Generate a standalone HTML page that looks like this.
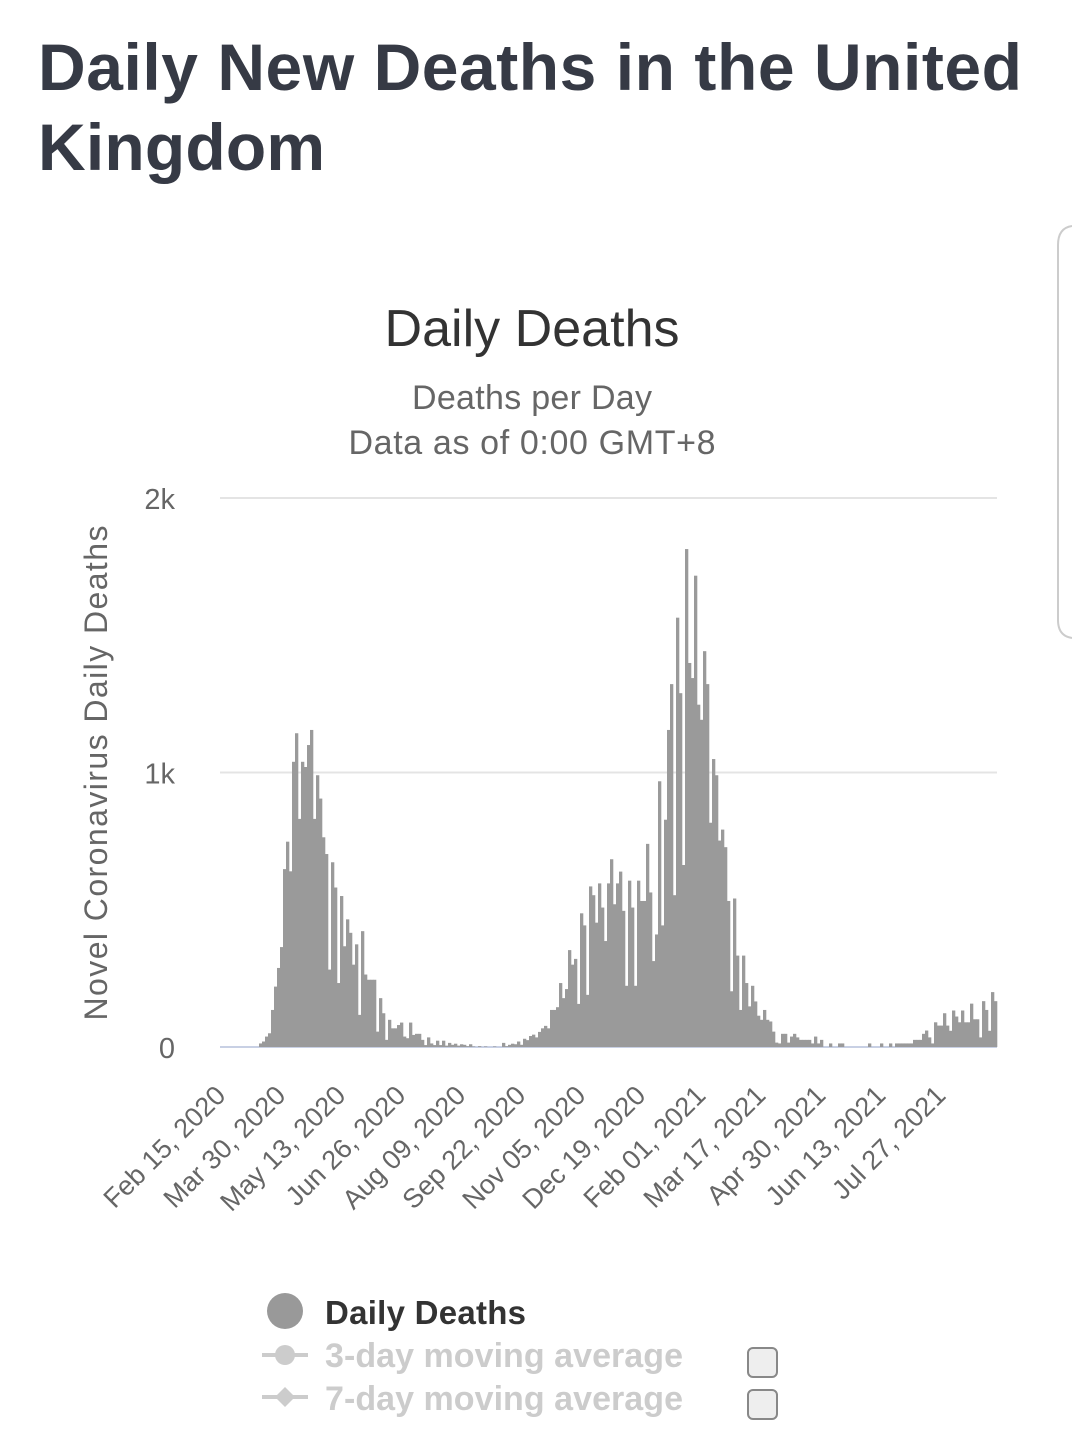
<!DOCTYPE html>
<html><head><meta charset="utf-8"><style>
html,body{margin:0;padding:0;background:#fff;}
svg{display:block;font-family:"Liberation Sans",sans-serif;}
</style></head><body>
<svg id="chart" width="1072" height="1429" viewBox="0 0 1072 1429">
<text x="38" y="90" font-size="66" font-weight="bold" fill="#363a45" textLength="984">Daily New Deaths in the United</text>
<text x="38" y="170" font-size="66" font-weight="bold" fill="#363a45" textLength="287">Kingdom</text>
<path d="M1072,226 Q1058,228 1058,245 L1058,620 Q1058,636 1072,638" fill="none" stroke="#ccc" stroke-width="2"/>
<text x="532" y="346" font-size="52" fill="#333" text-anchor="middle" textLength="295">Daily Deaths</text>
<text x="532" y="409" font-size="34" fill="#666" text-anchor="middle" textLength="240">Deaths per Day</text>
<text x="532" y="454" font-size="34" fill="#666" text-anchor="middle" textLength="367">Data as of 0:00 GMT+8</text>
<text transform="translate(107,773) rotate(-90)" font-size="32" fill="#666" text-anchor="middle" textLength="495">Novel Coronavirus Daily Deaths</text>
<g id="grid"></g><g id="bars"></g><g id="yt"></g><g id="xt"></g>
<circle cx="285" cy="1311" r="18" fill="#999"/>
<text x="325" y="1324" font-size="33" font-weight="bold" fill="#333" textLength="201">Daily Deaths</text>
<line x1="262" y1="1355" x2="308" y2="1355" stroke="#ccc" stroke-width="4"/>
<circle cx="285" cy="1355" r="10" fill="#ccc"/>
<text x="325" y="1367" font-size="34" font-weight="bold" fill="#ccc" textLength="358">3-day moving average</text>
<line x1="262" y1="1397" x2="308" y2="1397" stroke="#ccc" stroke-width="4"/>
<path d="M285,1387 L295,1397 L285,1407 L275,1397 Z" fill="#ccc"/>
<text x="325" y="1410" font-size="34" font-weight="bold" fill="#ccc" textLength="358">7-day moving average</text>
<rect x="748" y="1348" width="29" height="29" rx="5" fill="#eee" stroke="#888" stroke-width="2"/>
<rect x="748" y="1390" width="29" height="29" rx="5" fill="#eee" stroke="#888" stroke-width="2"/>
</svg>
<script>
const deaths = [0,0,0,0,0,0,0,0,0,0,0,0,0,
13,20,38,50,135,220,288,364,648,748,640,1039,1143,831,1039,1020,1100,1155,831,990,905,764,703,282,673,581,233,550,367,465,416,300,374,117,422,264,245,245,245,56,178,123,26,99,68,68,80,89,38,32,89,44,48,48,26,7,35,13,7,23,7,23,
5,15,8,12,5,10,8,3,10,2,0,3,0,2,0,0,2,0,0,15,3,8,12,10,20,8,30,25,40,45,35,55,
68,77,68,135,135,145,233,178,211,353,
300,321,157,487,443,190,585,553,453,596,
508,386,596,684,520,596,639,496,223,606,
508,223,606,532,532,740,563,313,410,968,
443,828,1155,1322,553,1564,1289,663,1814,1399,
1344,1717,1247,1192,1442,1322,817,1049,990,752,
792,728,532,203,541,333,135,333,233,148,
223,166,114,99,135,99,93,56,16,13,
48,48,16,38,48,35,26,26,26,26,13,38,13,
26,0,0,13,0,0,13,13,0,0,0,0,0,0,0,0,13,0,0,0,13,0,0,13,0,
13,13,13,13,13,13,26,26,26,
48,60,35,13,90,78,78,123,78,59,133,111,90,133,90,90,158,101,101,35,167,135,59,200,167];
const yTickValues = [0,1000,2000];
const yTickLabels = ["0","1k","2k"];
const xTickLabels = ["Feb 15, 2020","Mar 30, 2020","May 13, 2020","Jun 26, 2020","Aug 09, 2020","Sep 22, 2020","Nov 05, 2020","Dec 19, 2020","Feb 01, 2021","Mar 17, 2021","Apr 30, 2021","Jun 13, 2021","Jul 27, 2021"];
const xTickBarIndex = [1.7,21.7,41.7,61.7,81.7,101.7,121.7,141.7,161.7,181.7,201.7,221.7,241.7];

const NS="http://www.w3.org/2000/svg";
const X0=220, X1=997, Y0=1047, Y2k=498;
const bw=(X1-X0)/deaths.length;
const xs=i=>X0+i*bw;
const ys=v=>Y0-(v/2000)*(Y0-Y2k);
function mk(tag,attrs,parent){const e=document.createElementNS(NS,tag);for(const k in attrs)e.setAttribute(k,attrs[k]);document.getElementById(parent).appendChild(e);return e;}

yTickValues.forEach((v,i)=>{
  const g=mk('line',{x1:X0,x2:X1,y1:ys(v),y2:ys(v),stroke:v===0?'#c8d0e4':'#e4e4e4','stroke-width':2},'grid');
  
  
  const t=mk('text',{x:175,y:ys(v)+11,'font-size':29,fill:'#666','text-anchor':'end'},'yt');
  t.textContent=yTickLabels[i];
  
  
});
deaths.forEach((v,i)=>{
  if(v<=0)return;
  const r=mk('rect',{x:xs(i),y:ys(v),width:bw+0.3,height:Y0-ys(v),fill:'#9a9a9a'},'bars');
  
  
});
xTickLabels.forEach((lab,k)=>{
  const x=xs(xTickBarIndex[k]);
  const t=mk('text',{transform:`translate(${x+2},${1097}) rotate(-45)`,'font-size':27,fill:'#666','text-anchor':'end'},'xt');
  t.textContent=lab;
  
  
});
</script>
</body></html>
